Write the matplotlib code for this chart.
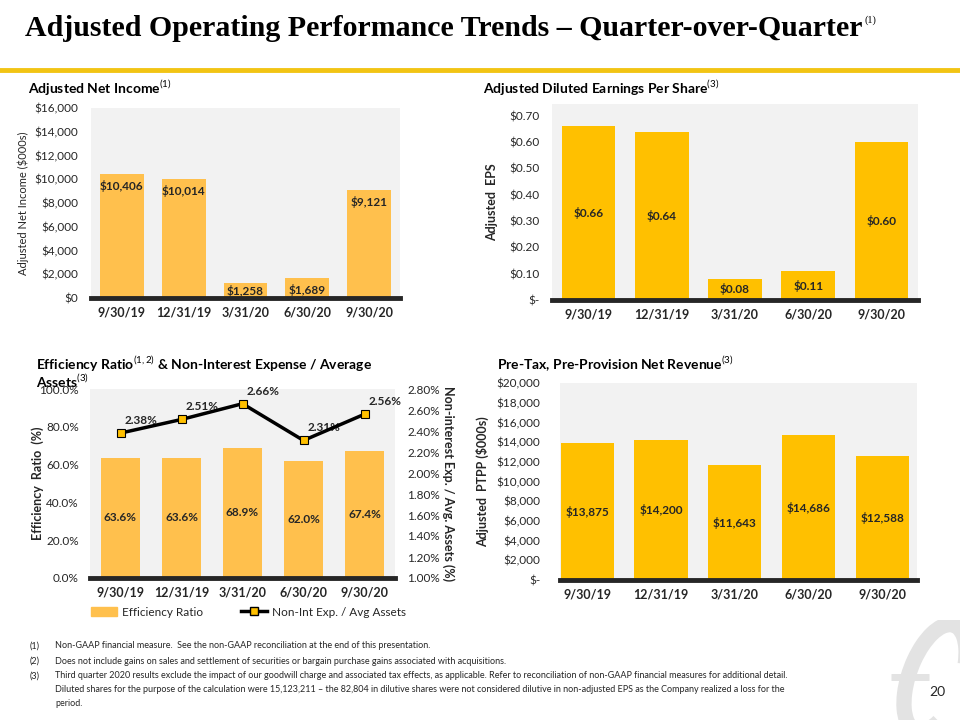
import numpy as np
import matplotlib
matplotlib.use('Agg')
import matplotlib.pyplot as plt
from matplotlib.lines import Line2D
from matplotlib.patches import Patch, Arc

plt.rcParams['font.family'] = ['Lato', 'DejaVu Sans']
plt.rcParams['mathtext.fontset'] = 'custom'
plt.rcParams['mathtext.rm'] = 'Lato'
plt.rcParams['mathtext.bf'] = 'Lato:bold'

quarters = ['9/30/19', '12/31/19', '3/31/20', '6/30/20', '9/30/20']
net_income = [10406, 10014, 1258, 1689, 9121]
eps = [0.66, 0.64, 0.08, 0.11, 0.60]
efficiency = [63.6, 63.6, 68.9, 62.0, 67.4]
nonint_exp = [2.38, 2.51, 2.66, 2.31, 2.56]
ptpp = [13875, 14200, 11643, 14686, 12588]

footnotes = [
    ('(1)', 'Non-GAAP financial measure.  See the non-GAAP reconciliation at the end of this presentation.'),
    ('(2)', 'Does not include gains on sales and settlement of securities or bargain purchase gains associated with acquisitions.'),
    ('(3)', 'Third quarter 2020 results exclude the impact of our goodwill charge and associated tax effects, as applicable. '
            'Refer to reconciliation of non-GAAP financial measures for additional detail.'),
    ('', 'Diluted shares for the purpose of the calculation were 15,123,211 \u2013 the 82,804 in dilutive shares were not '
         'considered dilutive in non-adjusted EPS as the Company realized a loss for the'),
    ('', 'period.'),
]

ORANGE = '#FFC04D'
GOLD = '#FFC000'
BG = '#F2F2F2'
TXT = '#262626'
W, H = 960, 720


def axes_px(fig, x0, y0, x1, y1):
    """Add axes from pixel box (top-left origin)"""
    return fig.add_axes([x0 / W, 1 - y1 / H, (x1 - x0) / W, (y1 - y0) / H])


def style_axes(ax, xlim=(-0.5, 4.5), ypad=7):
    ax.set_facecolor(BG)
    for s in ax.spines.values():
        s.set_visible(False)
    ax.tick_params(length=0, colors=TXT, labelsize=8.5)
    ax.tick_params(axis='x', pad=6)
    ax.tick_params(axis='y', pad=ypad)
    ax.set_xlim(*xlim)
    ax.set_xticks(range(len(quarters)))
    ax.set_xticklabels(quarters, fontweight='bold', fontsize=9)
    ax.axhline(0, color='#262626', lw=3.5, zorder=5, clip_on=False)


def ftext(x, y, s, **kw):
    kw.setdefault('va', 'center')
    kw.setdefault('ha', 'left')
    return fig.text(x / W, 1 - y / H, s, **kw)


fig = plt.figure(figsize=(9.6, 7.2), dpi=100)

# faint logo mark in the corner (drawn first, stays behind the page number)
axl = axes_px(fig, 885, 620, 960, 720)
axl.set_axis_off()
axl.set_xlim(0, 75)
axl.set_ylim(0, 100)
axl.add_patch(Arc((50, 42), 52, 112, angle=-20, theta1=45, theta2=295,
                  color='#E3E3E3', lw=11))
axl.plot([6, 44], [43, 43], color='#E3E3E3', lw=5, solid_capstyle='butt')

# header
title = ftext(25, 28, 'Adjusted Operating Performance Trends \u2013 Quarter-over-Quarter',
              family='Liberation Serif', fontweight='bold', fontsize=21.5, color='black')
fig.canvas.draw()
bb = title.get_window_extent()
ftext(bb.x1 + 2, 20, '(1)', family='Liberation Serif', fontsize=7.5, color='black')
fig.add_artist(Line2D([0, 1], [1 - 70 / H] * 2, color='#F2C414', lw=3.5))

x = np.arange(len(quarters))

# Adjusted net income
ax1 = axes_px(fig, 91, 108, 400, 298)
style_axes(ax1, ypad=9)
ax1.bar(x, net_income, width=0.71, color=ORANGE, zorder=2)
ax1.set_ylim(0, 16000)
ax1.set_yticks(np.arange(0, 16001, 2000))
ax1.set_yticklabels(['${:,.0f}'.format(v) for v in np.arange(0, 16001, 2000)])
ax1.set_ylabel('Adjusted Net Income ($000s)', fontsize=8, color=TXT)
ax1.yaxis.set_label_coords(-0.2, 0.5)
px1 = 16000 / 190.0
for i, v in enumerate(net_income):
    ly = max(v - 12 * px1, 7 * px1)
    ax1.text(i, ly, '${:,}'.format(v), ha='center', va='center',
             fontweight='bold', fontsize=8.5, color=TXT, zorder=6)
ftext(28, 88, 'Adjusted Net Income$^{\\mathrm{(1)}}$', fontweight='bold', fontsize=10, color='black')

# Adjusted EPS
ax2 = axes_px(fig, 552, 104, 918, 300)
style_axes(ax2, ypad=9)
ax2.bar(x, eps, width=0.73, color=GOLD, zorder=2)
ax2.set_ylim(0, 0.745)
ticks = np.arange(0, 0.701, 0.1)
ax2.set_yticks(ticks)
ax2.set_yticklabels(['$-'] + ['${:.2f}'.format(t) for t in ticks[1:]])
ax2.set_ylabel('Adjusted  EPS', fontsize=9, fontweight='bold', color=TXT)
ax2.yaxis.set_label_coords(-0.148, 0.5)
for i, v in enumerate(eps):
    ax2.text(i, v / 2, '${:.2f}'.format(v), ha='center', va='center',
             fontweight='bold', fontsize=8.5, color=TXT, zorder=6)
ftext(483, 88, 'Adjusted Diluted Earnings Per Share$^{\\mathrm{(3)}}$', fontweight='bold', fontsize=10, color='black')

# Efficiency ratio & non-int exp
ax3 = axes_px(fig, 90, 389, 395, 578)
style_axes(ax3, ypad=8)
ax3.bar(x, efficiency, width=0.64, color=ORANGE, zorder=2)
ax3.set_ylim(0, 100)
ax3.set_yticks(np.arange(0, 101, 20))
ax3.set_yticklabels(['{:.1f}%'.format(t) for t in np.arange(0, 101, 20)])
ax3.set_ylabel('Efficiency  Ratio  (%)', fontsize=9, fontweight='bold', color=TXT)
ax3.yaxis.set_label_coords(-0.15, 0.5)
for i, v in enumerate(efficiency):
    ax3.text(i, v / 2, '{:.1f}%'.format(v), ha='center', va='center',
             fontweight='bold', fontsize=8.5, color=TXT, zorder=6)
ax3r = ax3.twinx()
for s in ax3r.spines.values():
    s.set_visible(False)
ax3r.plot(x, nonint_exp, color='black', lw=2.5, marker='s', ms=5.5,
          mfc=GOLD, mec='black', mew=0.8, zorder=7)
ax3r.set_ylim(1.0, 2.8)
rt = np.arange(1.0, 2.81, 0.2)
ax3r.set_yticks(rt)
ax3r.set_yticklabels(['{:.2f}%'.format(t) for t in rt])
ax3r.tick_params(length=0, colors=TXT, labelsize=8.5, pad=9)
ax3r.set_ylabel('Non-interest Exp. / Avg. Assets (%)', fontsize=9, fontweight='bold',
                color=TXT, rotation=270, va='center')
ax3r.yaxis.set_label_coords(1.175, 0.5)
for i, v in enumerate(nonint_exp):
    ax3r.annotate('{:.2f}%'.format(v), (i, v), xytext=(15, 9), textcoords='offset points',
                  ha='center', va='center', fontweight='bold', fontsize=8.5, color=TXT)
handles = [Patch(color=ORANGE, label='Efficiency Ratio'),
           Line2D([], [], color='black', lw=2.5, marker='s', ms=5.5, mfc=GOLD, mec='black',
                  label='Non-Int Exp. / Avg Assets')]
ax3.legend(handles=handles, loc='center', bbox_to_anchor=(0.52, -0.18), ncol=2,
           frameon=False, fontsize=8.5, columnspacing=3.2, handlelength=2.2,
           handletextpad=0.4, labelcolor=TXT)
ftext(36, 364, 'Efficiency Ratio$^{\\mathrm{(1,2)}}$ & Non-Interest Expense / Average',
      fontweight='bold', fontsize=10, color='black')
ftext(36, 381, 'Assets$^{\\mathrm{(3)}}$', fontweight='bold', fontsize=10, color='black')

# PTPP
ax4 = axes_px(fig, 560, 383, 917, 580)
style_axes(ax4, xlim=(-0.37, 4.47), ypad=14)
ax4.bar(x, ptpp, width=0.72, color=GOLD, zorder=2)
ax4.set_ylim(0, 20000)
yt = np.arange(0, 20001, 2000)
ax4.set_yticks(yt)
ax4.set_yticklabels(['$-'] + ['${:,.0f}'.format(t) for t in yt[1:]])
ax4.set_ylabel('Adjusted  PTPP ($000s)', fontsize=9, fontweight='bold', color=TXT)
ax4.yaxis.set_label_coords(-0.2, 0.5)
for i, v in enumerate(ptpp):
    ax4.text(i, v / 2, '${:,}'.format(v), ha='center', va='center',
             fontweight='bold', fontsize=8.5, color=TXT, zorder=6)
ftext(497, 364, 'Pre-Tax, Pre-Provision Net Revenue$^{\\mathrm{(3)}}$', fontweight='bold', fontsize=10, color='black')

# footnotes
ys = [646, 661, 676, 690, 703]
for (num, txt), y in zip(footnotes, ys):
    if num:
        ftext(30, y, num, fontsize=6.5, color=TXT)
    ftext(55, y, txt, fontsize=6.5, color=TXT)
ftext(929, 692, '20', fontsize=10, color=TXT)

fig.savefig('out.png', dpi=100)
